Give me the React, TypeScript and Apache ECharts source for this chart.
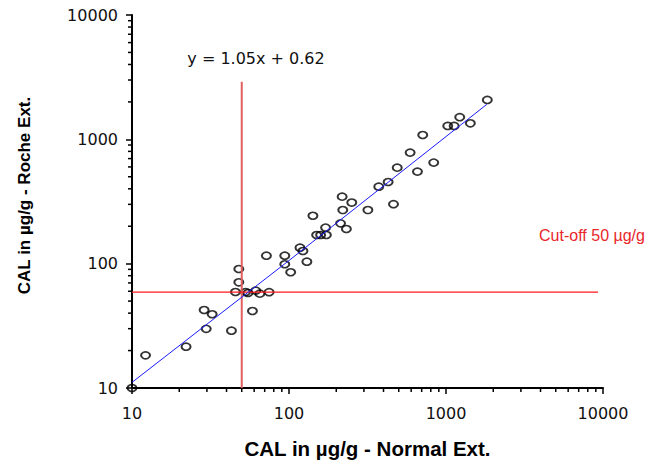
import React, { useEffect, useRef } from 'react';
import * as echarts from 'echarts';

// Measured sample pairs (Normal extraction vs Roche extraction), µg/g
const xValues = [10, 12.2, 22.1, 28.8, 32.4, 29.7, 43.0, 47.9, 47.9, 45.6, 52.9, 54.8, 61.4, 65.2, 74.7, 58.5, 71.8, 94, 94, 102.5, 117.5, 122.7, 130, 142, 150, 159, 173, 171, 213, 232, 220, 218, 251, 318, 373, 428, 463, 489, 591, 658, 711, 835, 1026, 1127, 1223, 1429, 1833];
const yValues = [10, 18.3, 21.5, 42.4, 39.2, 29.9, 28.9, 90.6, 70.8, 59.2, 59.2, 58.1, 60.7, 57.4, 59.0, 41.6, 115.9, 115.9, 98.9, 85.3, 134.5, 126.5, 103.7, 243, 170, 170, 170, 195, 211, 190, 270, 346, 310, 270, 416, 454, 301, 592, 782, 550, 1084, 650, 1282, 1282, 1507, 1346, 2075];

// Regression line y = 1.05x + 0.62
const fitX = [10, 100, 1820];
const fitY = [11.1, 106, 1912];

// Cut-off lines
const cutoffVX = [50, 50];
const cutoffVY = [10, 2900];
const cutoffHX = [10, 9300];
const cutoffHY = [59, 59];

const majorTicks = [10, 100, 1000, 10000];
const minorTicks = [20, 30, 40, 50, 60, 70, 80, 90, 200, 300, 400, 500, 600, 700, 800, 900, 2000, 3000, 4000, 5000, 6000, 7000, 8000, 9000];

const equationText = 'y = 1.05x + 0.62';
const cutoffText = 'Cut-off 50 µg/g';
const xTitle = 'CAL in µg/g - Normal Ext.';
const yTitle = 'CAL in µg/g - Roche Ext.';

export default function App() {
  const ref = useRef<HTMLDivElement>(null);

  useEffect(() => {
    if (!ref.current) return;
    const chart = echarts.init(ref.current, null, { renderer: 'svg' });

    const axisCommon: any = {
      type: 'log',
      logBase: 10,
      min: majorTicks[0],
      max: majorTicks[majorTicks.length - 1],
      axisLine: { show: true, onZero: false, lineStyle: { color: '#000', width: 2 } },
      axisTick: { show: true, inside: false, length: 6, lineStyle: { color: '#000', width: 1.5 } },
      splitLine: { show: false },
      minorTick: { show: false },
      minorSplitLine: { show: false },
      axisLabel: {
        fontFamily: 'DejaVu Sans',
        fontSize: 16,
        color: '#111',
        formatter: (v: number) => String(Math.round(v)),
      },
    };

    const tickStyle = { stroke: '#000', lineWidth: 1.5 };

    const option: any = {
      animation: false,
      backgroundColor: '#fff',
      grid: { left: 132, right: 55, top: 15, bottom: 75, containLabel: false, outerBoundsMode: 'none' },
      xAxis: {
        ...axisCommon,
        axisLabel: { ...axisCommon.axisLabel, margin: 17 },
        name: xTitle,
        nameLocation: 'middle',
        nameGap: 50,
        nameTextStyle: { fontFamily: 'Liberation Sans', fontWeight: 'bold', fontSize: 20.5, color: '#000' },
      },
      yAxis: {
        ...axisCommon,
        axisLabel: { ...axisCommon.axisLabel, margin: 14 },
        name: yTitle,
        nameLocation: 'middle',
        nameRotate: 90,
        nameGap: 99,
        nameTextStyle: { fontFamily: 'Liberation Sans', fontWeight: 'bold', fontSize: 17, color: '#000', padding: [0, 0, 0, 12] },
      },
      graphic: [
        {
          type: 'text',
          x: 256,
          y: 58,
          style: { text: equationText, fontFamily: 'DejaVu Sans', fontSize: 16, fill: '#111', align: 'center', verticalAlign: 'middle' },
        },
        {
          type: 'text',
          x: 592,
          y: 235,
          style: { text: cutoffText, fontFamily: 'Liberation Sans', fontSize: 16, fill: '#e8262a', align: 'center', verticalAlign: 'middle' },
        },
      ],
      series: [
        {
          type: 'custom',
          clip: false,
          silent: true,
          data: minorTicks.map((v) => [v, majorTicks[0]]),
          renderItem: (params: any, api: any) => {
            const p = api.coord([api.value(0), api.value(1)]);
            return { type: 'line', shape: { x1: p[0], y1: p[1], x2: p[0], y2: p[1] + 4 }, style: tickStyle };
          },
        },
        {
          type: 'custom',
          clip: false,
          silent: true,
          data: minorTicks.map((v) => [majorTicks[0], v]),
          renderItem: (params: any, api: any) => {
            const p = api.coord([api.value(0), api.value(1)]);
            return { type: 'line', shape: { x1: p[0], y1: p[1], x2: p[0] - 4, y2: p[1] }, style: tickStyle };
          },
        },
        {
          type: 'line',
          data: cutoffVX.map((x, i) => [x, cutoffVY[i]]),
          symbol: 'none',
          silent: true,
          lineStyle: { color: '#e06060', width: 2 },
        },
        {
          type: 'line',
          data: cutoffHX.map((x, i) => [x, cutoffHY[i]]),
          symbol: 'none',
          silent: true,
          lineStyle: { color: '#ff1a1a', width: 1.3 },
        },
        {
          type: 'scatter',
          data: xValues.map((x, i) => [x, yValues[i]]),
          symbol: 'circle',
          symbolSize: [9, 7],
          clip: false,
          itemStyle: { color: 'rgba(255,255,255,0)', borderColor: '#000', borderWidth: 1.8 },
        },
        {
          type: 'line',
          data: fitX.map((x, i) => [x, fitY[i]]),
          symbol: 'none',
          silent: true,
          lineStyle: { color: '#1a1aff', width: 1 },
        },
      ],
    };

    chart.setOption(option);
    return () => chart.dispose();
  }, []);

  return (
    <div
      ref={ref}
      style={{ position: 'fixed', left: 0, top: 0, width: 658, height: 463, background: '#fff' }}
    />
  );
}
